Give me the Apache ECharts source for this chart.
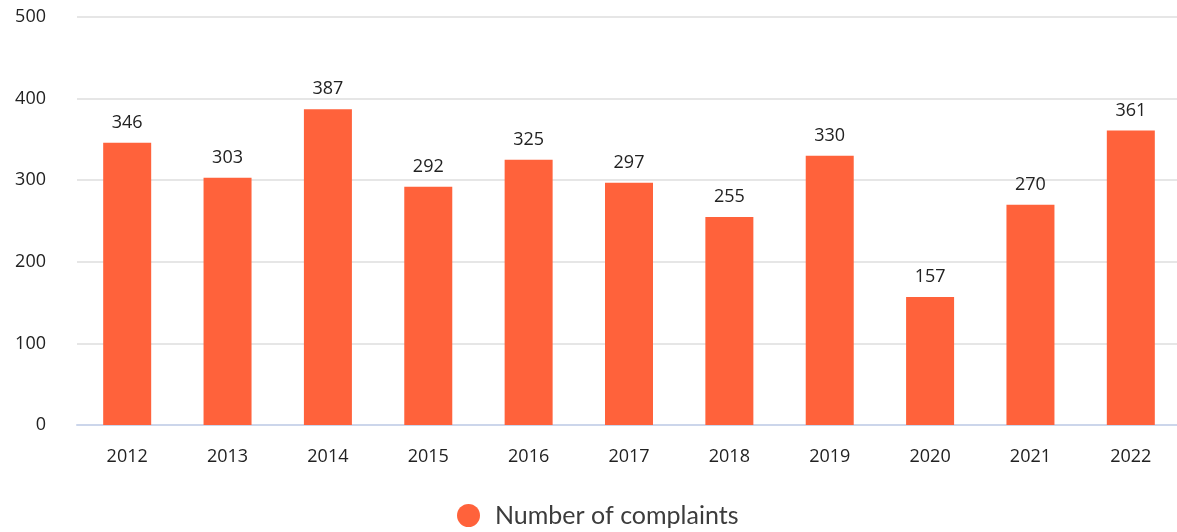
<!DOCTYPE html>
<html>
<head>
<meta charset="utf-8">
<script src="https://cdn.jsdelivr.net/npm/echarts@6/dist/echarts.min.js"></script>
<style>
  html, body { margin: 0; padding: 0; background: #fff; }
  #chart { width: 1177px; height: 532px; }
</style>
</head>
<body>
<div id="chart"></div>
<script>
// data
let years = ['2012', '2013', '2014', '2015', '2016', '2017', '2018', '2019', '2020', '2021', '2022'];
let complaints = [346, 303, 387, 292, 325, 297, 255, 330, 157, 270, 361];
let seriesName = 'Number of complaints';

let chart = echarts.init(document.getElementById('chart'));
let numFont = 'Open Sans';

let option = {
  animation: false,
  grid: {
    left: 77,
    top: 17,
    width: 1104,
    height: 408,
    outerBoundsMode: 'none'
  },
  legend: {
    left: 452,
    bottom: -1,
    icon: 'circle',
    itemWidth: 23,
    itemHeight: 23,
    textStyle: {
      fontFamily: 'Lato, sans-serif',
      fontSize: 25,
      color: '#3c3c3c',
      padding: [0, 0, 0, 10]
    },
    data: [seriesName]
  },
  xAxis: {
    type: 'category',
    data: years,
    axisLine: { lineStyle: { color: '#ccd6eb', width: 2 } },
    axisTick: { show: false },
    axisLabel: { fontFamily: numFont, fontSize: 18, color: '#222', margin: 23 }
  },
  yAxis: {
    type: 'value',
    min: 0,
    max: 500,
    interval: 100,
    splitLine: { lineStyle: { color: '#e6e6e6', width: 2 } },
    axisLabel: { fontFamily: numFont, fontSize: 18, color: '#222', margin: 31 }
  },
  series: [{
    name: seriesName,
    type: 'bar',
    data: complaints,
    barWidth: 48,
    itemStyle: { color: '#ff623b' },
    label: {
      show: true,
      position: 'top',
      distance: 11,
      fontFamily: numFont,
      fontSize: 18,
      color: '#222'
    }
  }]
};

chart.setOption(option);
</script>
</body>
</html>
